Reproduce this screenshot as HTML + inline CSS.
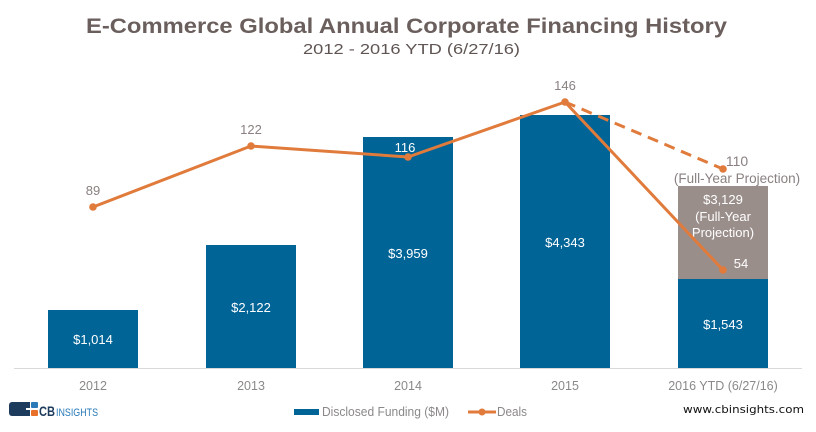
<!DOCTYPE html>
<html>
<head>
<meta charset="utf-8">
<style>
  html,body{margin:0;padding:0;background:#fff;}
  svg{display:block;}
  text{font-family:"Liberation Sans",sans-serif;}
</style>
</head>
<body>
<svg width="816" height="432" viewBox="0 0 816 432" xmlns="http://www.w3.org/2000/svg">
  <rect width="816" height="432" fill="#fff"/>
  <!-- Title -->
  <text x="86" y="33" font-size="21" font-weight="bold" fill="#6a5f5c" textLength="641" lengthAdjust="spacingAndGlyphs">E-Commerce Global Annual Corporate Financing History</text>
  <text x="303" y="54" font-size="15" fill="#5f5553" textLength="217" lengthAdjust="spacingAndGlyphs">2012 - 2016 YTD (6/27/16)</text>

  <!-- axis line -->
  <line x1="14" y1="368.5" x2="802" y2="368.5" stroke="#d9d9d9" stroke-width="1"/>

  <!-- Bars -->
  <rect x="48" y="310" width="90" height="58" fill="#006496"/>
  <rect x="206" y="245" width="90" height="123" fill="#006496"/>
  <rect x="363" y="137" width="90" height="231" fill="#006496"/>
  <rect x="520" y="115" width="90" height="253" fill="#006496"/>
  <rect x="678" y="186" width="90" height="93" fill="#9a8e8b"/>
  <rect x="678" y="279" width="90" height="89" fill="#006496"/>

  <!-- Bar labels -->
  <g font-size="13" fill="#ffffff" text-anchor="middle">
    <text x="93" y="344">$1,014</text>
    <text x="251" y="312">$2,122</text>
    <text x="408" y="258">$3,959</text>
    <text x="565" y="247">$4,343</text>
    <text x="723" y="329">$1,543</text>
    <text x="723" y="204">$3,129</text>
    <text x="723" y="221">(Full-Year</text>
    <text x="723" y="237">Projection)</text>
  </g>

  <!-- Line -->
  <polyline points="93,207 251,146 408,157 565,102 723,270" fill="none" stroke="#e07b3c" stroke-width="3" stroke-linejoin="round"/>
  <line x1="565" y1="102" x2="723" y2="169" stroke="#e07b3c" stroke-width="3" stroke-dasharray="11,7"/>
  <g fill="#e07b3c">
    <circle cx="93" cy="207" r="3.8"/>
    <circle cx="251" cy="146" r="3.8"/>
    <circle cx="408" cy="157" r="3.8"/>
    <circle cx="565" cy="102" r="3.8"/>
    <circle cx="723" cy="270" r="3.8"/>
    <circle cx="723" cy="169" r="3.8"/>
  </g>

  <!-- Line labels -->
  <g font-size="13" fill="#8a8080" text-anchor="middle">
    <text x="93" y="195">89</text>
    <text x="251" y="134">122</text>
    <text x="565" y="90">146</text>
    <text x="737" y="166" font-size="14">110</text>
    <text x="737" y="183" font-size="13.5">(Full-Year Projection)</text>
  </g>
  <text x="405" y="152" font-size="13" fill="#ffffff" text-anchor="middle">116</text>
  <text x="741" y="268" font-size="13" fill="#ffffff" text-anchor="middle">54</text>

  <!-- X axis labels -->
  <g font-size="12.5" fill="#8c8888" text-anchor="middle">
    <text x="93" y="390">2012</text>
    <text x="251" y="390">2013</text>
    <text x="408" y="390">2014</text>
    <text x="565" y="390">2015</text>
    <text x="723" y="390">2016 YTD (6/27/16)</text>
  </g>

  <!-- Legend -->
  <rect x="294" y="409" width="25" height="6" fill="#006496"/>
  <text x="322" y="416" font-size="12.5" fill="#8c8888" textLength="127" lengthAdjust="spacingAndGlyphs">Disclosed Funding ($M)</text>
  <line x1="468" y1="412" x2="496" y2="412" stroke="#e07b3c" stroke-width="3"/>
  <circle cx="482" cy="412" r="3.5" fill="#e07b3c"/>
  <text x="497" y="416" font-size="12.5" fill="#8c8888" textLength="30" lengthAdjust="spacingAndGlyphs">Deals</text>

  <!-- Website -->
  <text x="683" y="413" font-size="11" fill="#111" font-family="DejaVu Sans, sans-serif" style="font-family:'DejaVu Sans',sans-serif" textLength="121" lengthAdjust="spacingAndGlyphs">www.cbinsights.com</text>

  <!-- Logo -->
  <g>
    <rect x="9" y="402" width="17" height="14" rx="3" fill="#1d3b5c"/>
    <rect x="22" y="402" width="8" height="6" fill="#1d3b5c"/>
    <rect x="22" y="410" width="8" height="6" fill="#1d3b5c"/>
    <rect x="31" y="402" width="7" height="6" rx="1" fill="#2a7ab8"/>
    <rect x="31" y="410" width="7" height="6" rx="1" fill="#e8702a"/>
    <text x="39" y="416" font-size="14" font-weight="bold" fill="#1d3b5c" textLength="16" lengthAdjust="spacingAndGlyphs">CB</text>
    <text x="56" y="416" font-size="11" fill="#2a7ab8" textLength="42" lengthAdjust="spacingAndGlyphs">INSIGHTS</text>
  </g>
</svg>
</body>
</html>
